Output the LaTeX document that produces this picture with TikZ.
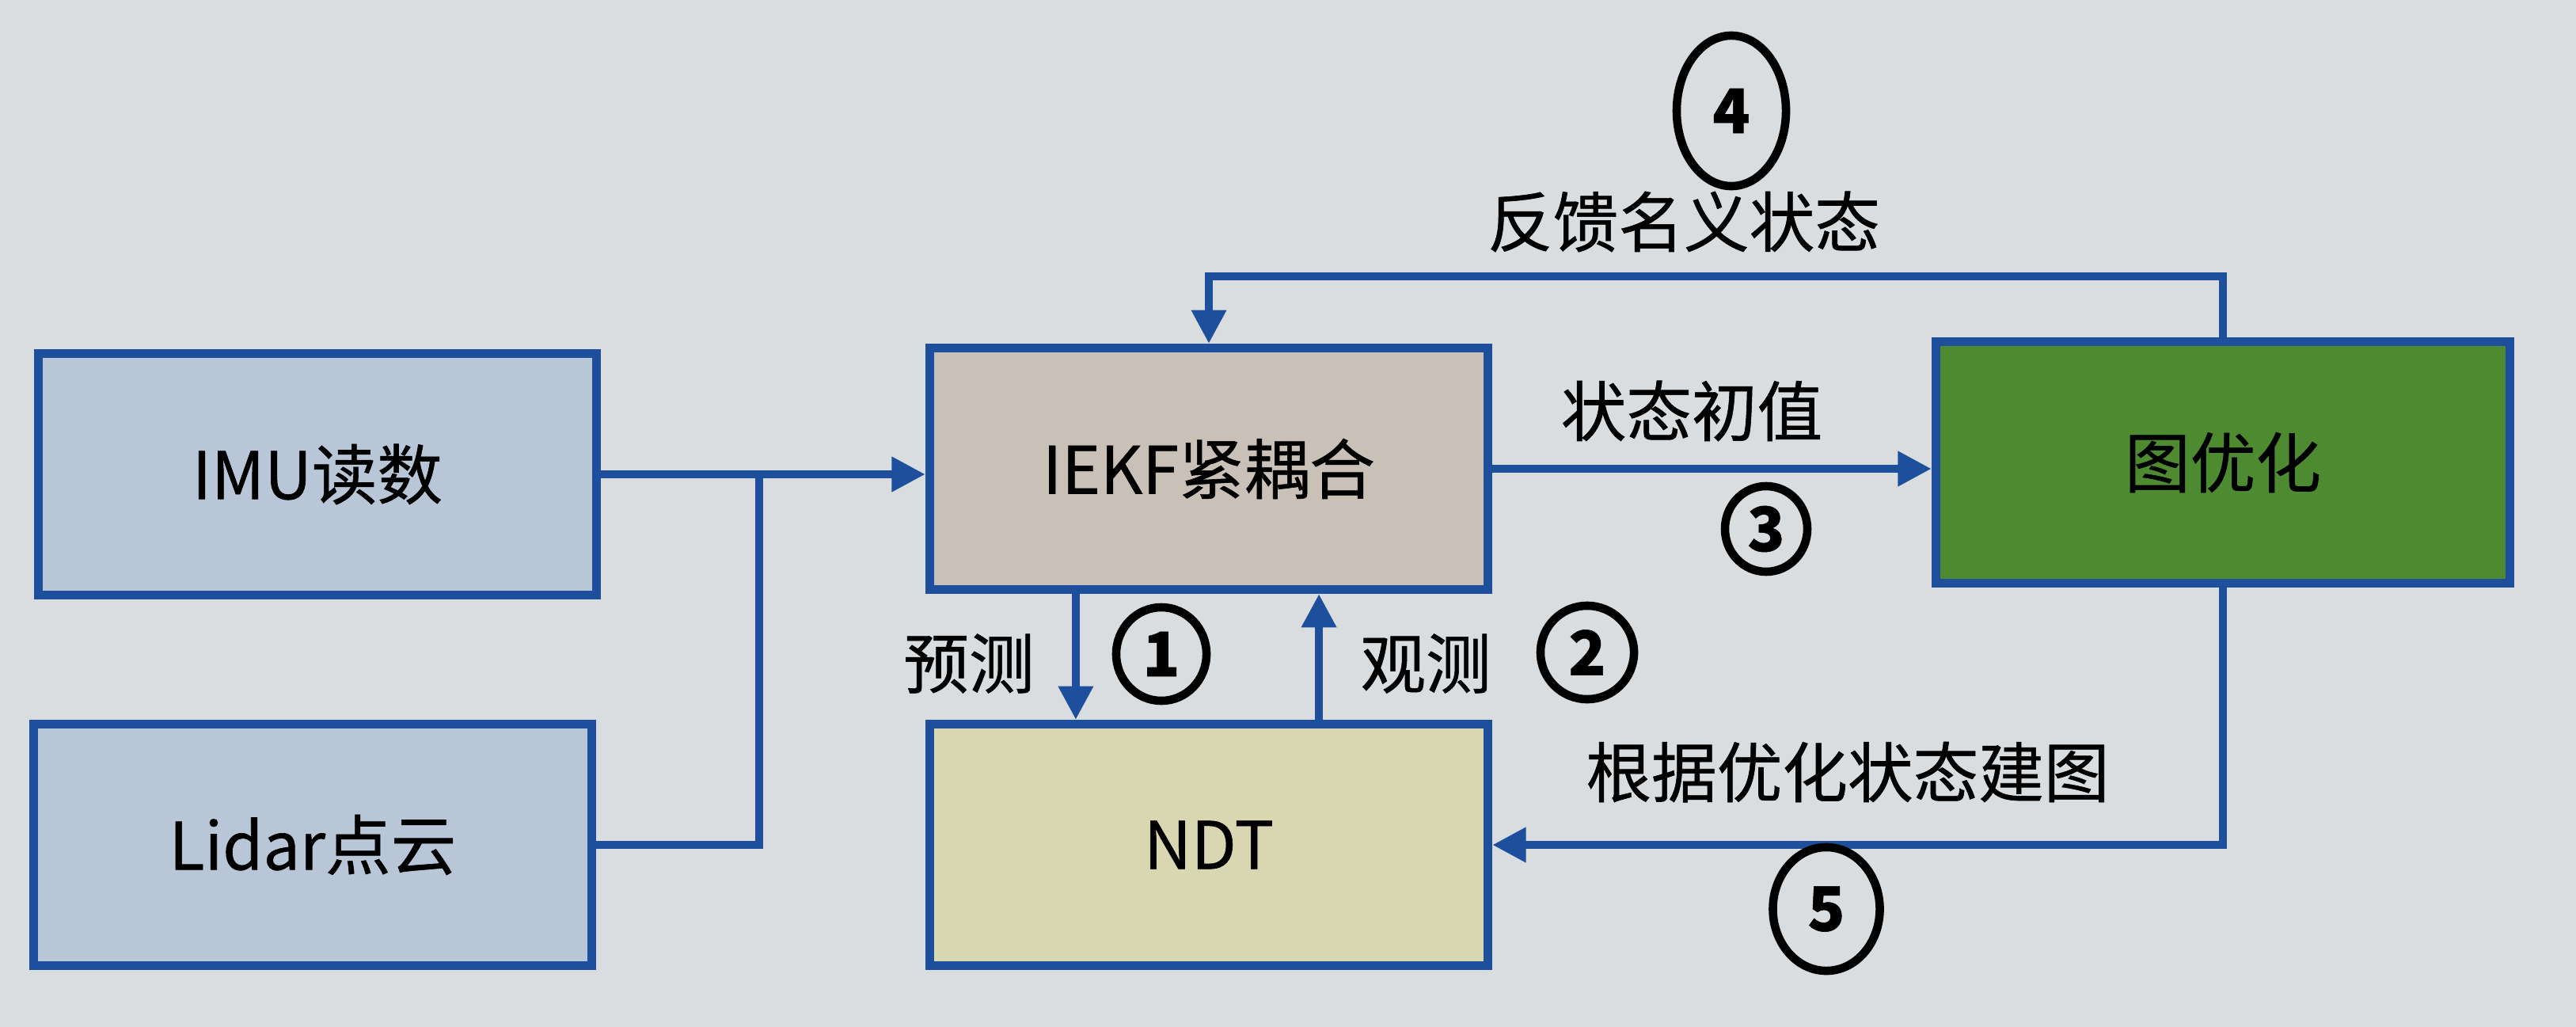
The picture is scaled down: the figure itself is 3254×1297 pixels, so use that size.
\documentclass[tikz,border=0pt]{standalone}
\usepackage{fontspec}
\setmainfont{Noto Sans CJK SC}[FakeBold=0.7]
\usepackage{tikz}
\usetikzlibrary{arrows.meta, positioning, shapes.geometric, calc}

\definecolor{paper}{HTML}{D9DDE0}
\definecolor{lineblue}{HTML}{1D4F9C}
\definecolor{inputfill}{HTML}{B8C6D7}
\definecolor{iekffill}{HTML}{C9C0B7}
\definecolor{ndtfill}{HTML}{D9D6B2}
\definecolor{optfill}{HTML}{4E8A30}

\tikzset{
    box/.style={draw=lineblue, line width=3.2pt, minimum width=7.05cm, minimum height=3.05cm,
        font=\fontsize{23.5}{28}\selectfont},
    flow/.style={lineblue, line width=2.7pt, -{Triangle[length=12pt, width=12pt]}},
    wire/.style={lineblue, line width=2.7pt},
    label/.style={font=\fontsize{23.5}{28}\selectfont},
    numtag/.style={ellipse, draw=black, line width=3pt, inner sep=0pt,
        font=\fontsize{22}{26}\selectfont\bfseries}
}

\begin{document}
\begin{tikzpicture}[x=0.01cm, y=-0.01cm]
    \fill[paper] (0,0) rectangle (3254,1297);
    \useasboundingbox (0,0) rectangle (3254,1297);

    % input boxes
    \node[box, fill=inputfill] (imu) at (401, 599) {IMU读数};
    \node[box, fill=inputfill] (lidar) at (395, 1067) {Lidar点云};

    % filter and map
    \node[box, fill=iekffill] (iekf) at (1527, 592) {IEKF紧耦合};
    \node[box, fill=ndtfill] (ndt) at (1527, 1067) {NDT};
    \node[box, fill=optfill, minimum width=7.25cm] (graph) at (2808, 584) {图优化};

    % inputs merge into the filter
    \coordinate (join) at (959, 598);
    \draw[flow] (imu.east) -- (imu.east -| iekf.west);
    \draw[wire] (lidar.east) -| (join);

    % prediction / observation
    \draw[flow] ([xshift=-1.68cm]iekf.south) -- ([xshift=-1.68cm]ndt.north);
    \draw[flow] ([xshift=1.39cm]ndt.north) -- ([xshift=1.39cm]iekf.south);
    \node[label] (pred) at (1224, 838) {预测};
    \node[label] (obs) at (1801, 838) {观测};

    % initial state to the graph
    \draw[flow] (iekf.east) -- (iekf.east -| graph.west);
    \node[label] (init) at (2137, 519) {状态初值};

    % feedback of nominal state
    \coordinate (fbline) at (2000, 349);
    \draw[flow] (graph.north) -- (graph.north |- fbline) -| (iekf.north);
    \node[label] (feedback) at (2127, 280) {反馈名义状态};

    % mapping with optimised state
    \draw[flow] (graph.south) |- (ndt.east);
    \node[label] (mapping) at (2334, 975) {根据优化状态建图};

    % handwritten step numbers
    \node[numtag, minimum width=1.14cm, minimum height=1.18cm] (n1) at (1467, 826) {1};
    \node[numtag, minimum width=1.18cm, minimum height=1.18cm] (n2) at (2005, 824) {2};
    \node[numtag, minimum width=1.04cm, minimum height=1.08cm] (n3) at (2231, 668) {3};
    \node[numtag, minimum width=1.38cm, minimum height=1.9cm] (n4) at (2187, 140) {4};
    \node[numtag, minimum width=1.35cm, minimum height=1.56cm] (n5) at (2307, 1148) {5};
\end{tikzpicture}
\end{document}
